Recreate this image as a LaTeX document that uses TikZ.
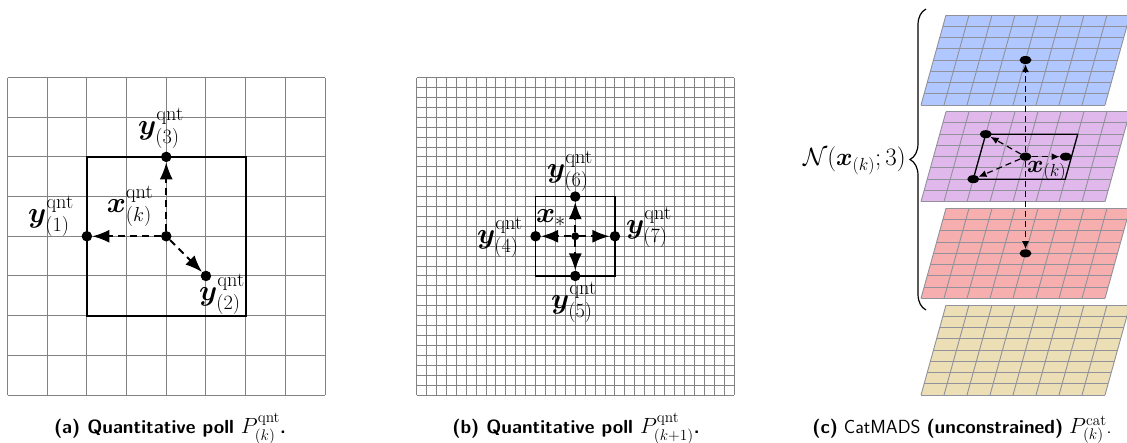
\RequirePackage{fix-cm}
\documentclass[tikz,border=0pt]{standalone}
\usepackage{amsmath,bm}
\usetikzlibrary{arrows.meta,shapes.geometric,decorations.pathreplacing}
\definecolor{gridgray}{RGB}{130,130,130}
\definecolor{layblue}{RGB}{176,200,255}
\definecolor{laypurple}{RGB}{224,184,236}
\definecolor{layred}{RGB}{246,174,174}
\definecolor{laytan}{RGB}{236,223,182}
\definecolor{laygrid}{RGB}{145,145,155}
\newcommand{\capmath}[1]{{\fontsize{22}{24}\selectfont$#1$}}
\tikzset{
  gridline/.style={draw=gridgray,line width=0.9pt},
  framebox/.style={draw=black,line width=1.8pt},
  ptdot/.style={circle,fill=black,inner sep=0pt,minimum size=10.5pt},
  smalldot/.style={circle,fill=black,inner sep=0pt,minimum size=8pt},
  ellipdot/.style={ellipse,fill=black,inner sep=0pt,minimum width=12pt,minimum height=8pt},
  pollarrow/.style={line width=1.8pt,dash pattern=on 7pt off 5pt,-{Latex[length=17pt,width=13pt]}},
  cpollarrow/.style={line width=1.2pt,dash pattern=on 6pt off 4pt,-{Latex[length=8pt,width=7pt]}},
  mlab/.style={font=\fontsize{29}{32}\selectfont,inner sep=0pt},
  clab/.style={font=\fontsize{25}{28}\selectfont,inner sep=0pt},
  captext/.style={font=\fontsize{19}{22}\selectfont\sffamily,anchor=base,inner sep=0pt},
  layergrid/.style={draw=laygrid,line width=0.9pt},
}
\begin{document}
\begin{tikzpicture}[x=1pt,y=-1pt]
\useasboundingbox (0,0) rectangle (1127,442);
% ---------- panel (a)
\foreach \i in {0,...,8}{
  \draw[gridline] ({7.5+39.6875*\i},77.5) -- ({7.5+39.6875*\i},395);
  \draw[gridline] (7.5,{77.5+39.6875*\i}) -- (325,{77.5+39.6875*\i});
}
\draw[framebox] (86.875,156.875) rectangle (245.625,315.625);
\node[ptdot] (ac) at (166.25,236.25) {};
\node[ptdot] (ay1) at (86.875,236.25) {};
\node[ptdot] (ay3) at (166.25,156.875) {};
\node[ptdot] (ay2) at (205.94,275.94) {};
\draw[pollarrow] (ac) -- (ay1);
\draw[pollarrow] (ac) -- (ay3);
\draw[pollarrow] (ac) -- (ay2);
\node[mlab] (ly1) at (51,216) {$\bm{y}^{\mathrm{qnt}}_{(1)}$};
\node[mlab] (lxk) at (130,206) {$\bm{x}^{\mathrm{qnt}}_{(k)}$};
\node[mlab] (ly3) at (161,128) {$\bm{y}^{\mathrm{qnt}}_{(3)}$};
\node[mlab] (ly2) at (222,294) {$\bm{y}^{\mathrm{qnt}}_{(2)}$};
% ---------- panel (b)
\foreach \i in {0,...,32}{
  \draw[gridline] ({416.5+9.921875*\i},77.5) -- ({416.5+9.921875*\i},395);
  \draw[gridline] (416.5,{77.5+9.921875*\i}) -- (734,{77.5+9.921875*\i});
}
\draw[framebox] (535.56,196.56) rectangle (614.94,275.94);
\node[smalldot] (bc) at (575.25,236.25) {};
\node[ptdot] (by4) at (535.56,236.25) {};
\node[ptdot] (by7) at (614.94,236.25) {};
\node[ptdot] (by6) at (575.25,196.56) {};
\node[ptdot] (by5) at (575.25,275.94) {};
\foreach \t in {by4,by5,by6,by7}{\draw[pollarrow] (bc) -- (\t);}
\node[mlab] (ly6) at (570,171) {$\bm{y}^{\mathrm{qnt}}_{(6)}$};
\node[mlab] (lxs) at (551,218) {$\bm{x}_{*}$};
\node[mlab] (ly4) at (500,237) {$\bm{y}^{\mathrm{qnt}}_{(4)}$};
\node[mlab] (ly7) at (649,227) {$\bm{y}^{\mathrm{qnt}}_{(7)}$};
\node[mlab] (ly5) at (574,302) {$\bm{y}^{\mathrm{qnt}}_{(5)}$};
% ---------- panel (c)
\foreach \b/\col in {105/layblue, 201.67/laypurple, 298.33/layred, 395/laytan}{
  \begin{scope}[shift={(921pt,-\b pt)},x={(23pt,0pt)},y={(3.125pt,11.25pt)}]
    \fill[\col] (0,0) -- (8,0) -- (8,8) -- (0,8) -- cycle;
    \foreach \j in {0,...,8}{
      \draw[layergrid] (\j,0) -- (\j,8);
      \draw[layergrid] (0,\j) -- (8,\j);
    }
  \end{scope}
}
\begin{scope}[shift={(921pt,-201.67pt)},x={(23pt,0pt)},y={(3.125pt,11.25pt)}]
  \draw[black,line width=1.3pt] (2,2) -- (6,2) -- (6,6) -- (2,6) -- cycle;
  \node[ellipdot] (cc) at (4,4) {};
  \node[ellipdot] (ctl) at (2,6) {};
  \node[ellipdot] (cbl) at (2,2) {};
  \node[ellipdot] (cr) at (5.75,4) {};
\end{scope}
\begin{scope}[shift={(921pt,-105pt)},x={(23pt,0pt)},y={(3.125pt,11.25pt)}]
  \node[ellipdot] (cup) at (4,4) {};
\end{scope}
\begin{scope}[shift={(921pt,-298.33pt)},x={(23pt,0pt)},y={(3.125pt,11.25pt)}]
  \node[ellipdot] (cdn) at (4,4) {};
\end{scope}
\foreach \t in {cup,cdn,ctl,cbl,cr}{\draw[cpollarrow] (cc) -- (\t);}
\node[clab,anchor=west] (lxc) at (1027,171) {$\bm{x}_{(k)}$};
\coordinate (bt) at (926,9);
\coordinate (bb) at (926,310);
\draw[decorate,decoration={brace,amplitude=16pt},line width=1.2pt] (bb) -- (bt);
\node[clab,anchor=east] (lN) at (906,161) {$\mathcal{N}(\bm{x}_{(k)};3)$};
% ---------- captions
\node[captext] (capa) at (170,433) {\bfseries (a) Quantitative poll \capmath{P^{\mathrm{qnt}}_{(k)}}.};
\node[captext] (capb) at (576,433) {\bfseries (b) Quantitative poll \capmath{P^{\mathrm{qnt}}_{(k+1)}}.};
\node[captext] (capc) at (962,433) {\textbf{(c)} CatMADS \textbf{(unconstrained)} \capmath{P^{\mathrm{cat}}_{(k)}}.};
\end{tikzpicture}
\end{document}
